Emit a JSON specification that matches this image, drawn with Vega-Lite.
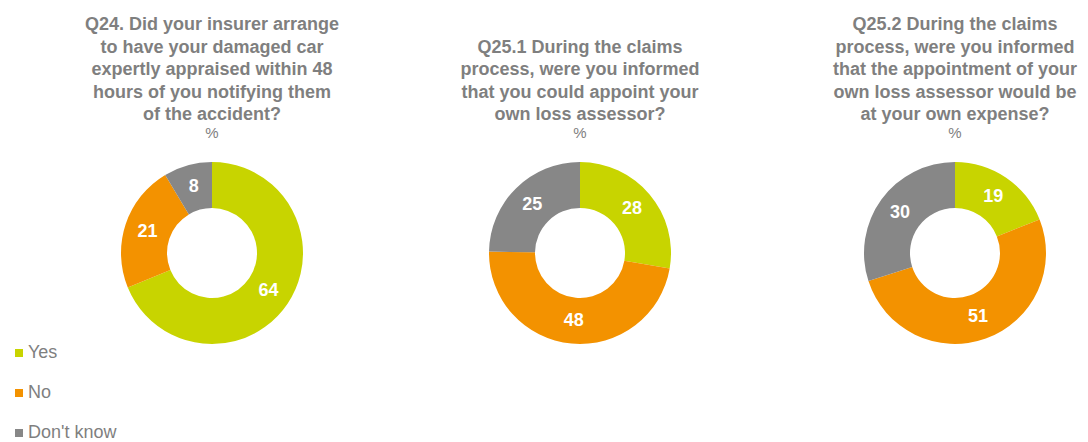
{
  "$schema": "https://vega.github.io/schema/vega-lite/v6.json",
  "background": "white",
  "padding": {"left": 10, "top": 16, "right": 0, "bottom": 0},
  "bounds": "flush",
  "spacing": 125,
  "data": {
    "values": [
      {"q": "Q24", "answer": "Yes", "ord": 1, "pct": 64},
      {"q": "Q24", "answer": "No", "ord": 2, "pct": 21},
      {"q": "Q24", "answer": "Don't know", "ord": 3, "pct": 8},
      {"q": "Q25.1", "answer": "Yes", "ord": 1, "pct": 28},
      {"q": "Q25.1", "answer": "No", "ord": 2, "pct": 48},
      {"q": "Q25.1", "answer": "Don't know", "ord": 3, "pct": 25},
      {"q": "Q25.2", "answer": "Yes", "ord": 1, "pct": 19},
      {"q": "Q25.2", "answer": "No", "ord": 2, "pct": 51},
      {"q": "Q25.2", "answer": "Don't know", "ord": 3, "pct": 30}
    ]
  },
  "config": {
    "view": {"stroke": null},
    "title": {
      "font": "Liberation Sans",
      "fontSize": 18,
      "fontWeight": "bold",
      "color": "#7f7f7f",
      "lineHeight": 22.5,
      "anchor": "middle",
      "offset": 12,
      "subtitleFont": "Liberation Sans",
      "subtitleFontSize": 15,
      "subtitleColor": "#7f7f7f",
      "subtitlePadding": 2
    },
    "legend": {
      "orient": "none",
      "legendX": -84,
      "legendY": 191,
      "padding": 0,
      "title": null,
      "symbolType": "square",
      "symbolSize": 64,
      "symbolStrokeWidth": 0,
      "labelFont": "Liberation Sans",
      "labelFontSize": 18,
      "labelColor": "#7f7f7f",
      "labelOffset": 0,
      "rowPadding": 22
    }
  },
  "hconcat": [
    {
      "title": {"text": ["Q24. Did your insurer arrange", "to have your damaged car", "expertly appraised within 48", "hours of you notifying them", "of the accident?"], "subtitle": "%"},
      "width": 236,
      "height": 200,
      "transform": [{"filter": "datum.q == 'Q24'"}],
      "encoding": {
        "theta": {"field": "pct", "type": "quantitative", "stack": true},
        "order": {"field": "ord", "type": "quantitative"}
      },
      "layer": [
        {
          "mark": {"type": "arc", "innerRadius": 45, "outerRadius": 91},
          "encoding": {
            "color": {"field": "answer", "type": "nominal", "scale": {"domain": ["Yes", "No", "Don't know"], "range": ["#c8d400", "#f39200", "#878787"]}, "legend": {"title": null}}
          }
        },
        {
          "mark": {"type": "text", "radius": 68, "font": "Liberation Sans", "fontSize": 18, "fontWeight": "bold", "color": "white"},
          "encoding": {"text": {"field": "pct", "type": "quantitative"}}
        }
      ]
    },
    {
      "title": {"text": ["Q25.1 During the claims", "process, were you informed", "that you could appoint your", "own loss assessor?"], "subtitle": "%"},
      "width": 250,
      "height": 200,
      "transform": [{"filter": "datum.q == 'Q25.1'"}],
      "encoding": {
        "theta": {"field": "pct", "type": "quantitative", "stack": true},
        "order": {"field": "ord", "type": "quantitative"}
      },
      "layer": [
        {
          "mark": {"type": "arc", "innerRadius": 45, "outerRadius": 91},
          "encoding": {
            "color": {"field": "answer", "type": "nominal", "scale": {"domain": ["Yes", "No", "Don't know"], "range": ["#c8d400", "#f39200", "#878787"]}, "legend": {"title": null}}
          }
        },
        {
          "mark": {"type": "text", "radius": 68, "font": "Liberation Sans", "fontSize": 18, "fontWeight": "bold", "color": "white"},
          "encoding": {"text": {"field": "pct", "type": "quantitative"}}
        }
      ]
    },
    {
      "title": {"text": ["Q25.2 During the claims", "process, were you informed", "that the appointment of your", "own loss assessor would be", "at your own expense?"], "subtitle": "%"},
      "width": 250,
      "height": 200,
      "transform": [{"filter": "datum.q == 'Q25.2'"}],
      "encoding": {
        "theta": {"field": "pct", "type": "quantitative", "stack": true},
        "order": {"field": "ord", "type": "quantitative"}
      },
      "layer": [
        {
          "mark": {"type": "arc", "innerRadius": 45, "outerRadius": 91},
          "encoding": {
            "color": {"field": "answer", "type": "nominal", "scale": {"domain": ["Yes", "No", "Don't know"], "range": ["#c8d400", "#f39200", "#878787"]}, "legend": {"title": null}}
          }
        },
        {
          "mark": {"type": "text", "radius": 68, "font": "Liberation Sans", "fontSize": 18, "fontWeight": "bold", "color": "white"},
          "encoding": {"text": {"field": "pct", "type": "quantitative"}}
        }
      ]
    }
  ]
}
